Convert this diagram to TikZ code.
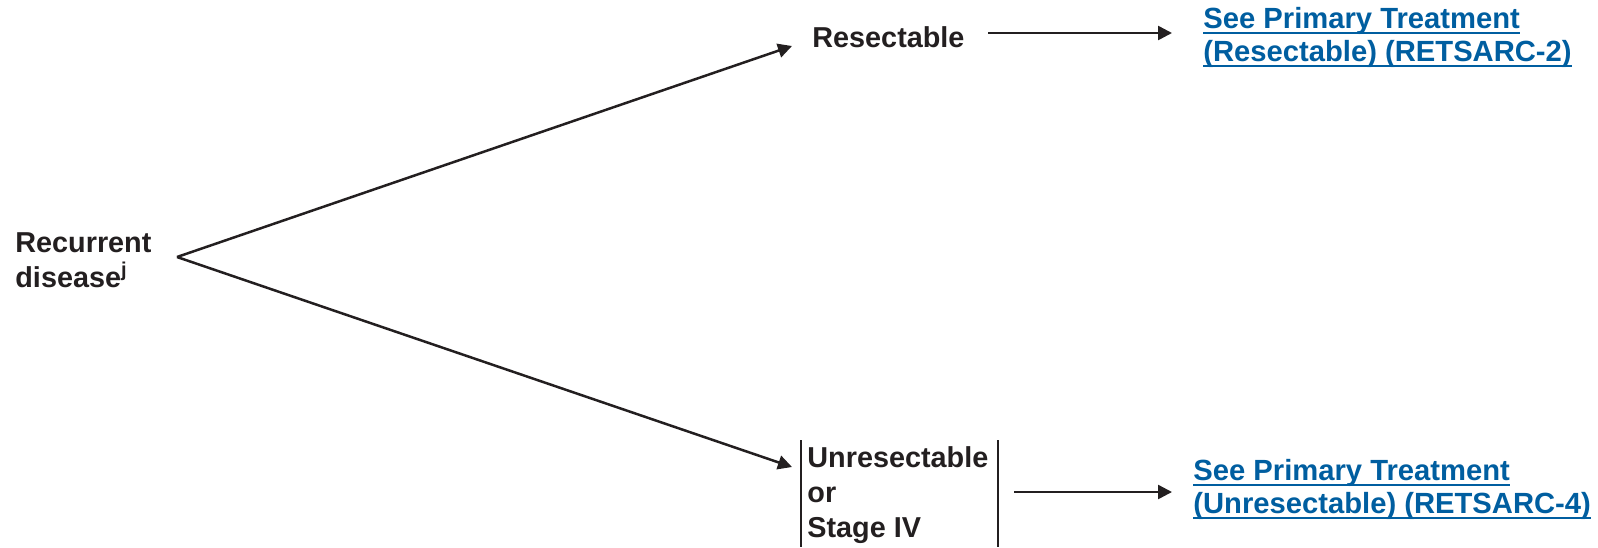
\documentclass[tikz,border=0pt]{standalone}
\usepackage{fontspec}
\setmainfont{Liberation Sans}
\usetikzlibrary{arrows.meta}
\definecolor{linkblue}{RGB}{0,94,160}
\definecolor{inkgray}{RGB}{35,31,32}
\newcommand{\linkul}[1]{\setbox0\hbox{#1}\rlap{\rule[-3pt]{\wd0}{1pt}}\box0}

\begin{document}
\begin{tikzpicture}[x=0.5pt,y=-0.5pt,
  every node/.style={inner sep=0pt,align=left,text=inkgray,
    font=\fontsize{14.4}{17.5}\selectfont\bfseries},
  arr/.style={line width=1.25pt,draw=inkgray,-{Triangle[length=7pt,width=7pt]}},
  bar/.style={line width=1pt,draw=inkgray},
  link/.style={text=linkblue,font=\fontsize{14.6}{16.3}\selectfont\bfseries}]
	%%%%% START %%%%%
	\useasboundingbox (0,0) rectangle (1598,547);
	
	% base anchor sits on the last line
	\node[anchor=base west] (recur) at (15,287) {Recurrent\\disease\textsuperscript{j}};
	\coordinate (fork) at (177,257);
	
	\node[anchor=base west] (resect) at (812,47) {Resectable};
	\coordinate (resecttip) at (792,46);
	\node[anchor=base west,link] (seeA) at (1203,61) {\linkul{See Primary Treatment}\\\linkul{(Resectable) (RETSARC-2)}};
	
	\node[anchor=base west] (unres) at (807,537) {Unresectable\\or\\Stage IV};
	\coordinate (unrestip) at (792,467);
	\node[anchor=base west,link] (seeB) at (1193,513) {\linkul{See Primary Treatment}\\\linkul{(Unresectable) (RETSARC-4)}};
	
	\draw[arr] (fork) -- (resecttip);
	\draw[arr] (fork) -- (unrestip);
	
	\draw[arr] (988,33) -- (1172,33);
	\draw[arr] (1014,492) -- (1172,492);
	
	\draw[bar] (801,440) -- (801,547);
	\draw[bar] (998,440) -- (998,547);
	%%%%% END %%%%%
\end{tikzpicture}
\end{document}
